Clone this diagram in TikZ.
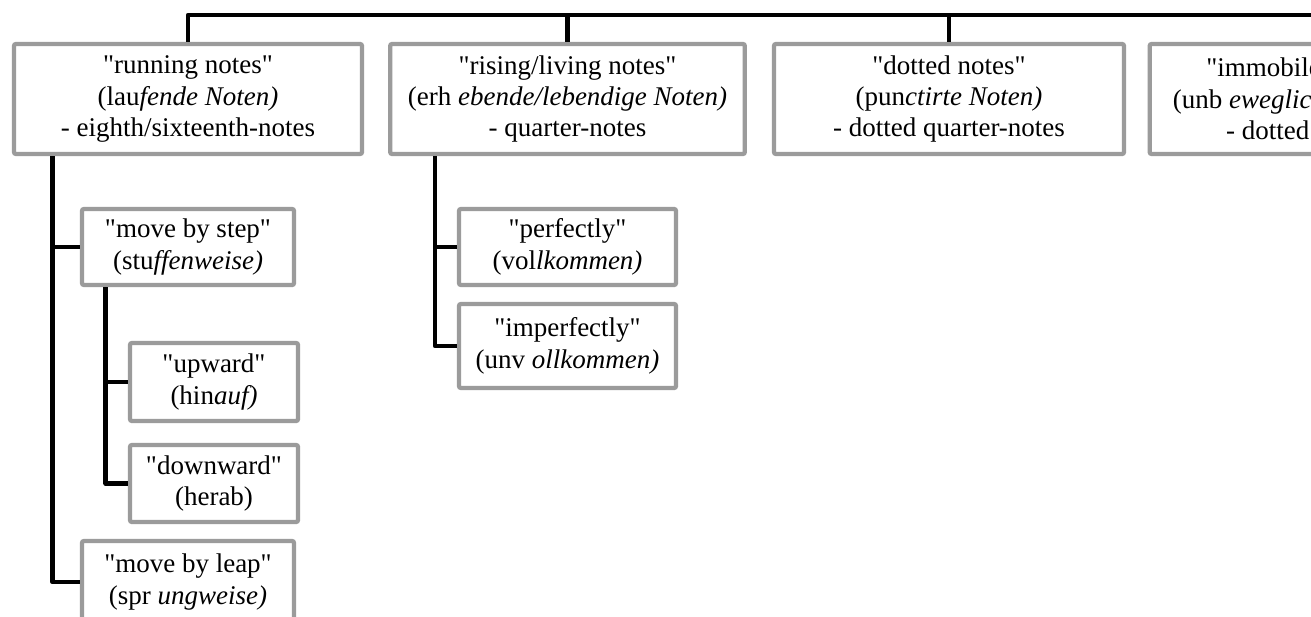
\documentclass[tikz,border=0pt]{standalone}
\usepackage{fontspec}
\newfontfamily\boxfont{Liberation Serif}
\usetikzlibrary{calc}
\definecolor{boxgray}{RGB}{155,155,155}
\tikzset{
  box/.style={draw=boxgray, line width=3.2pt, rounded corners=1.5pt, align=center, inner sep=0pt, fill=white},
  link/.style={line width=3.6pt, line join=round}
}
\begin{document}
\begin{tikzpicture}[x=0.75pt,y=-0.75pt,font=\boxfont\fontsize{20.25pt}{23.6pt}\selectfont]
\path[use as bounding box, fill=white] (0,0) rectangle (1311,617);
\clip (0,0) rectangle (1311,617);

% top row
\node[box, minimum width=261pt, minimum height=82.5pt] (run) at (188,99) {"running notes"\\(lau\textit{fende Noten)}\\- eighth/sixteenth-notes};
\node[box, minimum width=266pt, minimum height=82.5pt] (rise) at (567.5,99) {"rising/living notes"\\(erh \textit{ebende/lebendige Noten)}\\- quarter-notes};
\node[box, minimum width=262.5pt, minimum height=82.5pt] (dot) at (949,99) {"dotted notes"\\(pun\textit{ctirte Noten)}\\- dotted quarter-notes};
\node[box, minimum width=263pt, minimum height=82.5pt] (immob) at (1325,99) {"immobile/still notes"\\(unb \textit{ewegliche/stille Noten)}\\- dotted half-notes};

% second level
\node[box, minimum width=159pt, minimum height=57pt] (bystep) at (188,247) {"move by step"\\(stu\textit{ffenweise)}};
\node[box, minimum width=159pt, minimum height=61.5pt] (byleap) at (188,582) {"move by leap"\\(spr \textit{ungweise)}};
\node[box, minimum width=126pt, minimum height=58.5pt] (up) at (214,382) {"upward"\\(hin\textit{auf)}};
\node[box, minimum width=126pt, minimum height=57.75pt] (down) at (214,483.5) {"downward"\\(herab)};
\node[box, minimum width=162.75pt, minimum height=57pt] (perf) at (567.5,247) {"perfectly"\\(vol\textit{lkommen)}};
\node[box, minimum width=162.75pt, minimum height=63pt] (imperf) at (567.5,346) {"imperfectly"\\(unv \textit{ollkommen)}};

\coordinate (busL) at (188,15);
\coordinate (busR) at (1311,15);
\coordinate (runfoot) at ($(run.south west)+(41,0)$);
\coordinate (stepfoot) at ($(bystep.south west)+(26,0)$);
\coordinate (risefoot) at ($(rise.south west)+(47,0)$);

\path[draw,link] (run.north) -- (busL) -- (busR);
\path[draw,link] (rise.north) -- (rise.north |- busL);
\path[draw,link] (dot.north) -- (dot.north |- busL);
\path[draw,link] (immob.north) -- (immob.north |- busL);
\path[draw,link] (runfoot) |- (bystep.west);
\path[draw,link] (runfoot) |- (byleap.west);
\path[draw,link] (stepfoot) |- (up.west);
\path[draw,link] (stepfoot) |- (down.west);
\path[draw,link] (risefoot) |- (perf.west);
\path[draw,link] (risefoot) |- (imperf.west);
\end{tikzpicture}
\end{document}
